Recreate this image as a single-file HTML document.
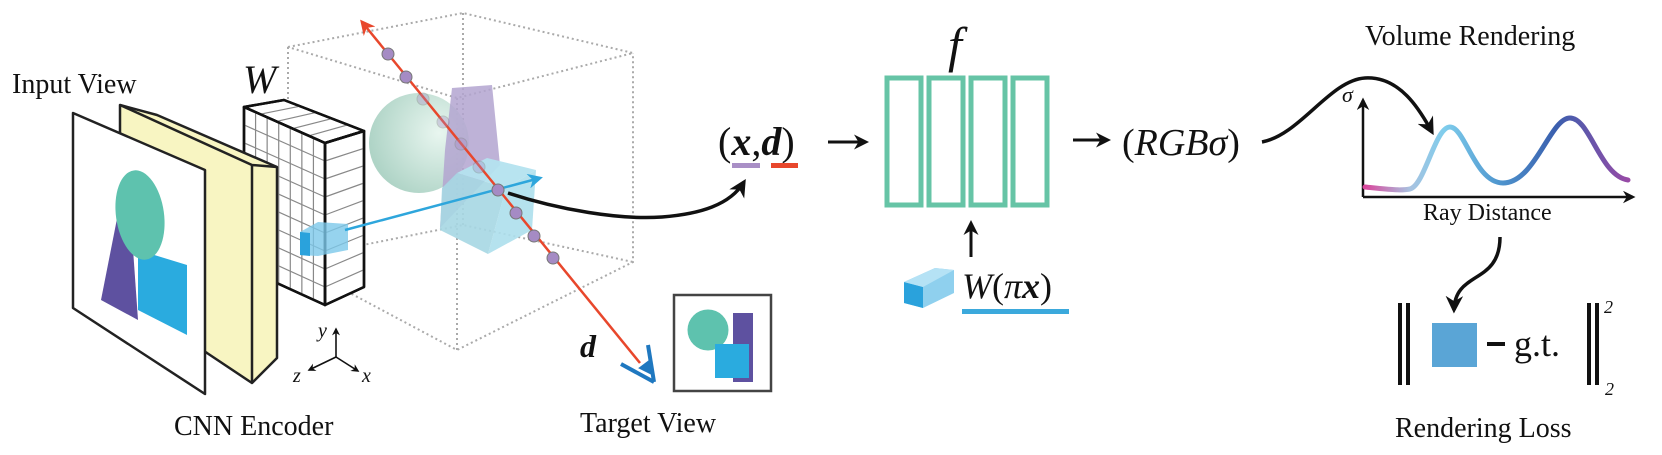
<!DOCTYPE html>
<html><head><meta charset="utf-8"><style>
html,body{margin:0;padding:0;background:#fff}
svg{display:block}
text{font-family:"Liberation Serif","DejaVu Serif",serif;fill:#111}
.it{font-style:italic}
</style></head><body>
<svg id="s" width="1662" height="455" viewBox="0 0 1662 455" xmlns="http://www.w3.org/2000/svg">
<defs>
<radialGradient id="sph" cx="0.7" cy="0.4" r="0.7"><stop offset="0" stop-color="#e6f5ee"/><stop offset="1" stop-color="#a6cfc0"/></radialGradient>
<linearGradient id="crv" x1="1365" y1="0" x2="1630" y2="0" gradientUnits="userSpaceOnUse">
<stop offset="0" stop-color="#d9479c"/><stop offset="0.17" stop-color="#a8c2e0"/><stop offset="0.3" stop-color="#7fcdec"/><stop offset="0.5" stop-color="#4f97cf"/><stop offset="0.72" stop-color="#3a5fae"/><stop offset="1" stop-color="#9a4aa6"/></linearGradient>
<marker id="ah" viewBox="0 0 10 10" refX="8" refY="5" markerWidth="5" markerHeight="5" orient="auto"><path d="M0,0 L10,5 L0,10 L3,5 z" fill="#111"/></marker>
<marker id="ahr" viewBox="0 0 10 10" refX="8" refY="5" markerWidth="6" markerHeight="6" orient="auto"><path d="M0,0 L10,5 L0,10 L3,5 z" fill="#e8472c"/></marker>
<marker id="ahb" viewBox="0 0 10 10" refX="8" refY="5" markerWidth="6" markerHeight="6" orient="auto"><path d="M0,0 L10,5 L0,10 L3,5 z" fill="#2ea6dc"/></marker>
</defs>

<!-- dotted cube -->
<g stroke="#aaa" stroke-width="2" stroke-dasharray="2,3" fill="none">
<path d="M288,47 L463,13 L633,53 L457,98 Z"/>
<path d="M288,47 L288,260 L457,350 L633,262 L633,53"/>
<path d="M457,98 L457,350"/>
<path d="M463,13 L463,225 M288,260 L463,225 L633,262"/>
</g>

<!-- sphere, purple shape, cube -->
<circle cx="419" cy="143" r="50" fill="url(#sph)" opacity="0.9"/>
<polygon points="452,88 492,85 500,165 440,228 445,150" fill="#b3a4d0" opacity="0.85"/>
<polygon points="457,173 487,158 536,170 506,188" fill="#b4e3ef" opacity="0.95"/>
<polygon points="457,173 506,188 488,254 440,230 442,188" fill="#a6d7e3" opacity="0.9"/>
<polygon points="506,188 536,170 532,230 488,254" fill="#addfec" opacity="0.9"/>

<!-- grid block -->
<g stroke="#111" stroke-width="2.5" fill="#fff" stroke-linejoin="round">
<polygon points="244,107 284,100 364,131 325,143"/>
<polygon points="325,143 364,131 364,287 325,305"/>
<polygon points="244,107 325,143 325,305 244,268"/>
</g>
<g id="grid" stroke="#888" stroke-width="1.2"></g>
<g stroke="#111" stroke-width="2.5" fill="none" stroke-linejoin="round">
<polygon points="244,107 284,100 364,131 325,143"/>
<polygon points="325,143 364,131 364,287 325,305"/>
<polygon points="244,107 325,143 325,305 244,268"/>
</g>
<!-- feature cube -->
<polygon points="300,232 318,222 348,224 348,250 318,256 300,255" fill="#7cc8ea" opacity="0.8"/>
<polygon points="300,232 310,233 310,256 300,255" fill="#2aa2dc"/>
<line x1="345" y1="230" x2="540" y2="178" stroke="#2ea6dc" stroke-width="2.5" marker-end="url(#ahb)"/>

<!-- yellow slab -->
<polygon points="120,105 157,115 277,167 277,358 252,383 207,353 120,300" fill="#f8f5c2" stroke="#222" stroke-width="2.5" stroke-linejoin="round"/>
<polyline points="120,105 252,165 277,167" fill="none" stroke="#222" stroke-width="2.5"/>
<line x1="252" y1="165" x2="252" y2="383" stroke="#222" stroke-width="2.5"/>
<!-- white input panel -->
<polygon points="73,113 205,170 205,394 73,308" fill="#fff" stroke="#222" stroke-width="2.5" stroke-linejoin="round"/>
<polygon points="138,320 128,178 125,178 101,300" fill="#5e51a0"/>
<polygon points="138,250 187,265 187,335 138,310" fill="#2aabdf"/>
<ellipse cx="140" cy="215" rx="24" ry="45" transform="rotate(-8 140 215)" fill="#5ec2ae"/>

<!-- axes -->
<g stroke="#111" stroke-width="1.6" fill="none">
<line x1="336" y1="357" x2="336" y2="329" marker-end="url(#ah)"/>
<line x1="336" y1="357" x2="309" y2="370" marker-end="url(#ah)"/>
<line x1="336" y1="357" x2="358" y2="371" marker-end="url(#ah)"/>
</g>
<text x="318" y="337" class="it" font-size="20">y</text>
<text x="293" y="382" class="it" font-size="20">z</text>
<text x="362" y="382" class="it" font-size="20">x</text>

<!-- ray -->
<line x1="640" y1="363" x2="362" y2="22" stroke="#e8472c" stroke-width="2.5" marker-end="url(#ahr)"/>
<g fill="#a58bc4" stroke="#777" stroke-width="1">
<circle cx="388" cy="54" r="6"/><circle cx="406" cy="77" r="6"/>
<circle cx="423" cy="99" r="6" opacity="0.35"/><circle cx="443" cy="122" r="6" opacity="0.35"/>
<circle cx="461" cy="144" r="6" opacity="0.35"/><circle cx="479" cy="167" r="6" opacity="0.35"/>
<circle cx="498" cy="190" r="6"/><circle cx="516" cy="213" r="6"/>
<circle cx="534" cy="236" r="6"/><circle cx="553" cy="258" r="6"/>
</g>
<!-- eye -->
<g stroke="#1f78c0" stroke-width="4" fill="none">
<line x1="621" y1="364" x2="654" y2="382"/>
<line x1="648" y1="345" x2="654" y2="382"/>
<path d="M640,368 L648,362 L650,373 Z" fill="#1f78c0" stroke-width="2"/>
</g>
<text x="580" y="357" class="it" font-size="32" font-weight="bold">d</text>

<!-- black curve to (x,d) -->
<path d="M508,193 C560,210 620,220 662,217 C700,214 730,205 744,182" fill="none" stroke="#111" stroke-width="3.5" marker-end="url(#ah)"/>

<!-- target view -->
<rect x="674" y="295" width="97" height="96" fill="#fff" stroke="#444" stroke-width="2.5"/>
<rect x="733" y="313" width="20" height="69" fill="#5e51a0"/>
<circle cx="708" cy="330" r="20.5" fill="#5ec2ae"/>
<rect x="715" y="344" width="34" height="34" fill="#2aabdf"/>

<!-- labels -->
<text x="12" y="93" font-size="28">Input View</text>
<text x="243" y="93" class="it" font-size="40">W</text>
<text x="174" y="435" font-size="28">CNN Encoder</text>
<text x="580" y="432" font-size="28">Target View</text>

<!-- (x,d) -->
<text x="718" y="155" font-size="40">(<tspan class="it" font-weight="bold">x</tspan>,<tspan class="it" font-weight="bold">d</tspan>)</text>
<rect x="732" y="163" width="28" height="5" fill="#a98fc6"/>
<rect x="771" y="163" width="27" height="5" fill="#e8472c"/>
<line x1="828" y1="142" x2="866" y2="142" stroke="#111" stroke-width="3" marker-end="url(#ah)"/>

<!-- network -->
<g fill="none" stroke="#66c4a6" stroke-width="5">
<rect x="887" y="78" width="34" height="127"/><rect x="929" y="78" width="34" height="127"/>
<rect x="971" y="78" width="34" height="127"/><rect x="1013" y="78" width="34" height="127"/>
</g>
<text x="948" y="62" class="it" font-size="50">f</text>
<line x1="1073" y1="140" x2="1108" y2="140" stroke="#111" stroke-width="3" marker-end="url(#ah)"/>
<text x="1122" y="155" font-size="38">(<tspan class="it">RGBσ</tspan>)</text>
<line x1="971" y1="257" x2="971" y2="223" stroke="#111" stroke-width="3" marker-end="url(#ah)"/>
<!-- small cube -->
<polygon points="904,282 935,268 954,270 954,293 923,308 904,303" fill="#8fd0ee"/>
<polygon points="904,282 923,287 923,308 904,303" fill="#2aa2dc"/>
<polygon points="904,282 935,268 954,270 923,287" fill="#b5e2f5"/>
<text x="962" y="298" font-size="36"><tspan class="it">W</tspan>(<tspan class="it">π</tspan><tspan class="it" font-weight="bold">x</tspan>)</text>
<rect x="962" y="309" width="107" height="5" fill="#3ba9dc"/>

<!-- volume rendering -->
<text x="1365" y="45" font-size="28">Volume Rendering</text>
<path d="M1262,142 C1300,135 1330,80 1365,78 C1400,76 1420,110 1432,132" fill="none" stroke="#111" stroke-width="3.5" marker-end="url(#ah)"/>
<line x1="1363" y1="197" x2="1363" y2="100" stroke="#111" stroke-width="2.5" marker-end="url(#ah)"/>
<line x1="1363" y1="197" x2="1633" y2="197" stroke="#111" stroke-width="2.5" marker-end="url(#ah)"/>
<text x="1342" y="102" class="it" font-size="22">σ</text>
<path d="M1365,187 C1385,189 1400,191 1410,189 C1425,185 1435,127 1450,127 C1465,127 1475,183 1503,183 C1535,183 1550,118 1570,118 C1590,118 1600,176 1628,180" fill="none" stroke="url(#crv)" stroke-width="5" stroke-linecap="round"/>
<text x="1423" y="220" font-size="24">Ray Distance</text>
<path d="M1500,237 C1500,285 1455,270 1454,310" fill="none" stroke="#111" stroke-width="3.5" marker-end="url(#ah)"/>

<!-- loss -->
<g fill="#111">
<rect x="1398" y="303" width="4" height="82"/><rect x="1406" y="303" width="4" height="82"/>
<rect x="1587" y="303" width="4" height="82"/><rect x="1595" y="303" width="4" height="82"/>
<rect x="1487" y="342" width="18" height="4"/>
</g>
<rect x="1432" y="323" width="45" height="44" fill="#5aa5d6"/>
<text x="1514" y="356" font-size="36">g.t.</text>
<text x="1604" y="313" font-size="18" class="it">2</text>
<text x="1605" y="395" font-size="18" class="it">2</text>
<text x="1395" y="437" font-size="28">Rendering Loss</text>
</svg>
<script>
(function(){
var g=document.getElementById('grid'),ns='http://www.w3.org/2000/svg';
function L(a,b,c,d){var l=document.createElementNS(ns,'line');l.setAttribute('x1',a);l.setAttribute('y1',b);l.setAttribute('x2',c);l.setAttribute('y2',d);g.appendChild(l);}
function lerp(p,q,t){return [p[0]+(q[0]-p[0])*t,p[1]+(q[1]-p[1])*t];}
function face(A,B,C,D,nu,nv){var i,p,q;for(i=1;i<nu;i++){p=lerp(A,B,i/nu);q=lerp(D,C,i/nu);L(p[0],p[1],q[0],q[1]);}
for(i=1;i<nv;i++){p=lerp(A,D,i/nv);q=lerp(B,C,i/nv);L(p[0],p[1],q[0],q[1]);}}
face([244,107],[325,143],[325,305],[244,268],7,9);
face([325,143],[364,131],[364,287],[325,305],1,9);
face([244,107],[284,100],[364,131],[325,143],1,5);
})();
</script>
</body></html>
